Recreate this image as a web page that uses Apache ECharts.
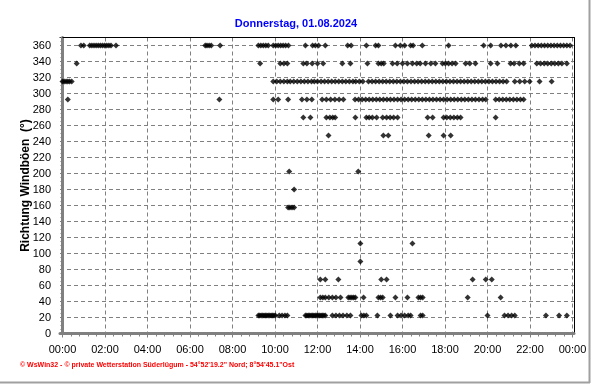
<!DOCTYPE html>
<html>
<head>
<meta charset="utf-8">
<script src="https://cdn.jsdelivr.net/npm/echarts@6/dist/echarts.min.js"></script>
<style>html,body{margin:0;padding:0;background:#fff;}#c{width:592px;height:384px;}</style>
</head>
<body>
<div id="c"></div>
<script>
// Wind gust direction readings: minutes after midnight, grouped by direction (degrees)
const d360 = [52, 60, 77, 83, 89, 95, 101, 107, 113, 119, 125, 131, 137, 151,
  403, 408, 414, 420, 445,
  553, 560, 567, 574, 581, 595, 602, 609, 616, 623, 630, 638,
  686, 706, 714, 723, 742, 805, 815, 858, 884, 892, 940, 954, 966, 983, 990, 1016, 1090,
  1189, 1209, 1238, 1252, 1266, 1280,
  1325, 1334, 1343, 1352, 1361, 1370, 1379, 1388, 1397, 1406, 1415, 1424, 1433];
const d337 = [40, 558, 615, 625, 635, 680, 690, 705, 720, 736, 790, 813, 861, 892, 900, 907,
  932, 945, 960, 974, 988, 1000, 1010, 1025, 1040, 1053, 1073, 1081, 1090, 1100, 1110,
  1138, 1150, 1166, 1209, 1228, 1265, 1275, 1290, 1302,
  1339, 1350, 1360, 1370, 1380, 1390, 1400, 1410, 1424];
const d315 = [0, 5, 10, 15, 20, 26,
  595, 605, 615, 625, 635, 643,
  653, 663, 673, 683, 693, 703, 711,
  720, 730, 740, 750, 760, 770, 780, 790, 800, 810, 820, 828, 838, 848,
  864, 874, 884, 894, 904, 914, 924, 934, 944, 954, 964, 974, 984, 994, 1004, 1014, 1024, 1034,
  1044, 1054, 1064, 1074, 1084, 1094, 1104, 1114, 1124, 1134, 1144, 1154, 1164, 1174, 1184, 1194,
  1204, 1214, 1224, 1234, 1244, 1254,
  1277, 1291, 1305, 1319, 1347, 1381];
const d292 = [15, 443, 595, 609, 637, 676, 690, 704, 733, 745, 757, 769, 781, 793,
  826, 836, 846, 856, 866, 876, 886, 896, 906, 916, 926, 936, 946, 956, 966, 976, 986, 996,
  1006, 1016, 1026, 1036, 1046, 1056, 1066, 1076, 1086, 1096, 1106, 1116, 1126, 1136, 1146,
  1156, 1166, 1176, 1186, 1195,
  1223, 1233, 1243, 1253, 1263, 1273, 1283, 1293, 1302];
const d270 = [680, 700, 745, 755, 763, 770, 827, 858, 866, 875, 887, 904, 915, 925, 935, 946,
  1031, 1045, 1076, 1085, 1095, 1105, 1115, 1124, 1223];
const d247 = [751, 906, 920, 1034, 1076, 1096];
const d202 = [640, 835];
const d180 = [654];
const d157 = [637, 642, 648, 654];
const d112 = [841, 988];
const d90 = [841];
const d67 = [728, 742, 779, 900, 915, 1158, 1195, 1212];
const d45 = [728, 735, 742, 752, 762, 772, 785, 807, 812, 817, 822, 827, 850, 892, 898, 904,
  940, 974, 1005, 1011, 1017, 1144, 1237];
const d22 = [553, 557, 561, 565, 569, 573, 577, 581, 585, 589, 593, 597, 601, 612, 620, 628, 635,
  686, 690, 694, 698, 702, 706, 710, 714, 718, 722, 726, 730, 734, 738, 742,
  762, 772, 782, 792, 803, 813, 844, 851, 858, 889, 926, 946, 956, 966, 976, 983, 1011, 1017,
  1200, 1248, 1258, 1268, 1277, 1365, 1402, 1424];

const directions = [360, 337.5, 315, 292.5, 270, 247.5, 202.5, 180, 157.5, 112.5, 90, 67.5, 45, 22.5];
const timeLists = [d360, d337, d315, d292, d270, d247, d202, d180, d157, d112, d90, d67, d45, d22];
const hourLabels = ['00:00', '02:00', '04:00', '06:00', '08:00', '10:00', '12:00', '14:00', '16:00', '18:00', '20:00', '22:00', '00:00'];

const points = [];
directions.forEach((dir, i) => {
  timeLists[i].forEach(m => points.push([m / 60, dir]));
});

const chart = echarts.init(document.getElementById('c'), null, {renderer: 'canvas'});
const grey = '#808080';
const font = 'Liberation Sans';
chart.setOption({
  animation: false,
  backgroundColor: '#ffffff',
  title: {
    text: 'Donnerstag, 01.08.2024',
    left: 'center',
    top: 13,
    textStyle: {color: '#0000ff', fontWeight: 'bold', fontSize: 11, fontFamily: font}
  },
  grid: [
    {left: 60, right: 18, top: 37.5, bottom: 50.5, show: false},
    {left: 62.5, right: 19.5, top: 37.5, bottom: 50.5, show: false}
  ],
  xAxis: [
    {
      type: 'value', gridIndex: 0, min: -0.1176, max: 24.07,
      axisLine: {show: true, onZero: false, lineStyle: {color: grey, width: 3}},
      axisTick: {show: false}, axisLabel: {show: false}, splitLine: {show: false}
    },
    {
      type: 'value', gridIndex: 1, min: 0, max: 24, interval: 2,
      axisLine: {show: false, onZero: false},
      axisTick: {show: true, length: 4, lineStyle: {color: grey}},
      minorTick: {show: true, splitNumber: 5, length: 3, lineStyle: {color: grey}},
      axisLabel: {
        color: '#000', fontSize: 11, fontFamily: font, margin: 11,
        formatter: v => hourLabels[Math.round(v / 2)]
      },
      splitLine: {show: true, lineStyle: {color: grey, type: [4, 3], width: 1}}
    },
    {
      type: 'value', gridIndex: 0, position: 'top', min: -0.1176, max: 24.07,
      axisLine: {show: true, onZero: false, lineStyle: {color: '#000', width: 1}},
      axisTick: {show: false}, axisLabel: {show: false}, splitLine: {show: false}
    }
  ],
  yAxis: [
    {
      type: 'value', gridIndex: 0, min: 0, max: 370, interval: 20,
      name: 'Richtung Windböen  (°)', nameLocation: 'middle', nameGap: 28, nameMoveOverlap: false,
      nameTextStyle: {color: '#000', fontWeight: 'bold', fontSize: 12, fontFamily: font},
      axisLine: {show: true, lineStyle: {color: grey, width: 3}},
      axisTick: {show: true, length: 2, lineStyle: {color: grey}},
      minorTick: {show: true, splitNumber: 4, length: 2, lineStyle: {color: grey}},
      axisLabel: {
        color: '#000', fontSize: 11, fontFamily: font, margin: 9,
        formatter: v => (v > 360 ? '' : String(v))
      },
      splitLine: {show: true, lineStyle: {color: grey, type: [4, 3], width: 1}}
    },
    {type: 'value', gridIndex: 1, min: 0, max: 370, show: false, splitLine: {show: false}},
    {
      type: 'value', gridIndex: 0, position: 'right', min: 0, max: 370,
      axisLine: {show: true, onZero: false, lineStyle: {color: '#000', width: 1}},
      axisTick: {show: false}, axisLabel: {show: false}, splitLine: {show: false}
    }
  ],
  series: [{
    type: 'scatter',
    xAxisIndex: 0, yAxisIndex: 0,
    symbol: 'diamond',
    symbolSize: [6, 6],
    itemStyle: {color: '#000'},
    data: points,
    z: 5
  }],
  graphic: [
    {
      type: 'text', left: 20, top: 362,
      style: {
        text: '© WsWin32 - © private Wetterstation Süderlügum - 54°52\'19.2" Nord; 8°54\'45.1"Ost',
        fill: '#ff0000', font: 'bold 7px "Liberation Sans Narrow", "Liberation Sans", sans-serif'
      }
    },
    {type: 'line', shape: {x1: 589.5, y1: 0, x2: 589.5, y2: 383}, style: {stroke: '#a0a0a0', lineWidth: 2}},
    {type: 'line', shape: {x1: 0, y1: 382.5, x2: 590, y2: 382.5}, style: {stroke: '#a0a0a0', lineWidth: 2}}
  ]
});
</script>
</body>
</html>
